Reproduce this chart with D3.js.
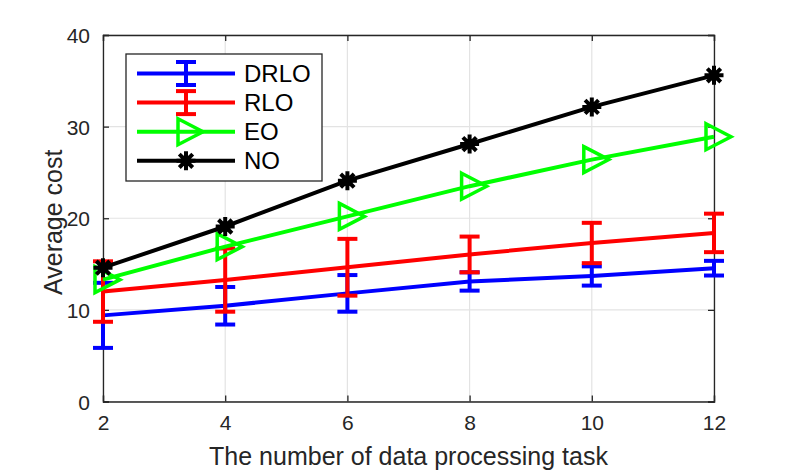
<!DOCTYPE html>
<html><head><meta charset="utf-8">
<script src="https://cdn.jsdelivr.net/npm/d3@7/dist/d3.min.js"></script>
<style>body{margin:0;background:#fff}svg{display:block}text{font-family:"Liberation Sans",Arial,Helvetica,sans-serif}</style>
</head><body>
<svg id="c" width="789" height="471"></svg>
<script>
const tasks = [2, 4, 6, 8, 10, 12];
const drloMean = [9.4, 10.45, 11.8, 13.1, 13.7, 14.55];
const drloErr  = [3.55, 2.05, 2.0, 1.0, 1.05, 0.8];
const rloMean  = [12.0, 13.25, 14.65, 16.05, 17.3, 18.4];
const rloErr   = [3.3, 3.45, 3.1, 1.95, 2.2, 2.1];
const eoVals   = [13.3, 16.9, 20.2, 23.5, 26.4, 28.9];
const noVals   = [14.6, 19.1, 24.1, 28.1, 32.15, 35.6];
const xTicks = [2, 4, 6, 8, 10, 12];
const yTicks = [0, 10, 20, 30, 40];
const seriesNames = ["DRLO", "RLO", "EO", "NO"];

const svg = d3.select("#c");
const L = 103, R = 714, T = 35, B = 401.5;
const x = d3.scaleLinear().domain([2, 12]).range([L, R]);
const y = d3.scaleLinear().domain([0, 40]).range([B, T]);
const axisCol = "#262626";

// grid
const g = svg.append("g");
g.selectAll(".gx").data(xTicks).join("line")
  .attr("x1", d => x(d)).attr("x2", d => x(d)).attr("y1", T).attr("y2", B)
  .attr("stroke", "#e3e3e3").attr("stroke-width", 1.2);
g.selectAll(".gy").data(yTicks).join("line")
  .attr("x1", L).attr("x2", R).attr("y1", d => y(d)).attr("y2", d => y(d))
  .attr("stroke", "#e3e3e3").attr("stroke-width", 1.2);

// axes
const tl = 6;
const ax = svg.append("g").attr("transform", `translate(0,${B})`)
  .call(d3.axisBottom(x).tickValues(xTicks).tickSize(-tl).tickPadding(14).tickFormat(d3.format("d")));
const axT = svg.append("g").attr("transform", `translate(0,${T})`)
  .call(d3.axisTop(x).tickValues(xTicks).tickSize(-tl).tickFormat(""));
const ay = svg.append("g").attr("transform", `translate(${L},0)`)
  .call(d3.axisLeft(y).tickValues(yTicks).tickSize(-tl).tickPadding(13).tickFormat(d3.format("d")));
const ayR = svg.append("g").attr("transform", `translate(${R},0)`)
  .call(d3.axisRight(y).tickValues(yTicks).tickSize(-tl).tickFormat(""));
[ax, axT, ay, ayR].forEach(a => {
  a.attr("font-size", 21).attr("font-family", '"Liberation Sans",Arial,sans-serif');
  a.select(".domain").attr("stroke", axisCol).attr("stroke-width", 1.3);
  a.selectAll(".tick line").attr("stroke", axisCol).attr("stroke-width", 1.3);
  a.selectAll("text").attr("fill", axisCol).style("font-size", "21px");
});
ay.selectAll("text").attr("dy", "0.36em");

// labels
svg.append("text").attr("x", (L + R) / 2).attr("y", 465).attr("text-anchor", "middle")
  .attr("fill", axisCol).style("font-size", "25px").text("The number of data processing task");
svg.append("text").attr("transform", `translate(62,${(T + B) / 2 + 4}) rotate(-90)`)
  .attr("text-anchor", "middle").attr("fill", axisCol).style("font-size", "25px").text("Average cost");

const line = d3.line().x(d => x(d[0])).y(d => y(d[1]));
const lw = 4;
const capW = 20;

function drawErr(sel, px, py1, py2, col) {
  sel.append("line").attr("x1", px).attr("x2", px).attr("y1", py1).attr("y2", py2)
    .attr("stroke", col).attr("stroke-width", lw);
  [py1, py2].forEach(p => sel.append("line").attr("x1", px - capW / 2).attr("x2", px + capW / 2)
    .attr("y1", p).attr("y2", p).attr("stroke", col).attr("stroke-width", lw));
}
function drawTri(sel, px, py, col) {
  sel.append("path").attr("d", `M${px - 8},${py - 13}L${px + 17},${py}L${px - 8},${py + 13}Z`)
    .attr("fill", "none").attr("stroke", col).attr("stroke-width", 3.5).attr("stroke-linejoin", "miter");
}
function drawStar(sel, px, py, col) {
  const r = 9.5, d = r * 0.7071;
  sel.append("path").attr("d",
    `M${px - r},${py}L${px + r},${py}M${px},${py - r}L${px},${py + r}M${px - d},${py - d}L${px + d},${py + d}M${px - d},${py + d}L${px + d},${py - d}`)
    .attr("stroke", col).attr("stroke-width", 4);
  sel.append("circle").attr("cx", px).attr("cy", py).attr("r", 5.5).attr("fill", col);
}

const plot = svg.append("g");
// DRLO
const d1 = tasks.map((t, i) => [t, drloMean[i]]);
plot.append("path").datum(d1).attr("d", line).attr("fill", "none").attr("stroke", "#0000ff").attr("stroke-width", lw);
tasks.forEach((t, i) => drawErr(plot, x(t), y(drloMean[i] + drloErr[i]), y(drloMean[i] - drloErr[i]), "#0000ff"));
// RLO
const d2 = tasks.map((t, i) => [t, rloMean[i]]);
plot.append("path").datum(d2).attr("d", line).attr("fill", "none").attr("stroke", "#ff0000").attr("stroke-width", lw);
tasks.forEach((t, i) => drawErr(plot, x(t), y(rloMean[i] + rloErr[i]), y(rloMean[i] - rloErr[i]), "#ff0000"));
// EO
const d3d = tasks.map((t, i) => [t, eoVals[i]]);
plot.append("path").datum(d3d).attr("d", line).attr("fill", "none").attr("stroke", "#00ff00").attr("stroke-width", lw);
tasks.forEach((t, i) => drawTri(plot, x(t), y(eoVals[i]), "#00ff00"));
// NO
const d4 = tasks.map((t, i) => [t, noVals[i]]);
plot.append("path").datum(d4).attr("d", line).attr("fill", "none").attr("stroke", "#000").attr("stroke-width", lw);
tasks.forEach((t, i) => drawStar(plot, x(t), y(noVals[i]), "#000"));

// legend
const lg = svg.append("g");
lg.append("rect").attr("x", 126).attr("y", 54).attr("width", 196).attr("height", 127)
  .attr("fill", "#fff").attr("stroke", axisCol).attr("stroke-width", 1.3);
const cols = ["#0000ff", "#ff0000", "#00ff00", "#000"];
seriesNames.forEach((n, i) => {
  const cy = 73.5 + i * 29.1;
  lg.append("line").attr("x1", 137).attr("x2", 235).attr("y1", cy).attr("y2", cy)
    .attr("stroke", cols[i]).attr("stroke-width", lw);
  if (i < 2) drawErr(lg, 186, cy - 11.5, cy + 11.5, cols[i]);
  else if (i === 2) drawTri(lg, 186, cy, cols[i]);
  else drawStar(lg, 186, cy, cols[i]);
  lg.append("text").attr("x", 244).attr("y", cy + 8.6).attr("fill", "#000")
    .style("font-size", "24px").text(n);
});
</script>
</body></html>
